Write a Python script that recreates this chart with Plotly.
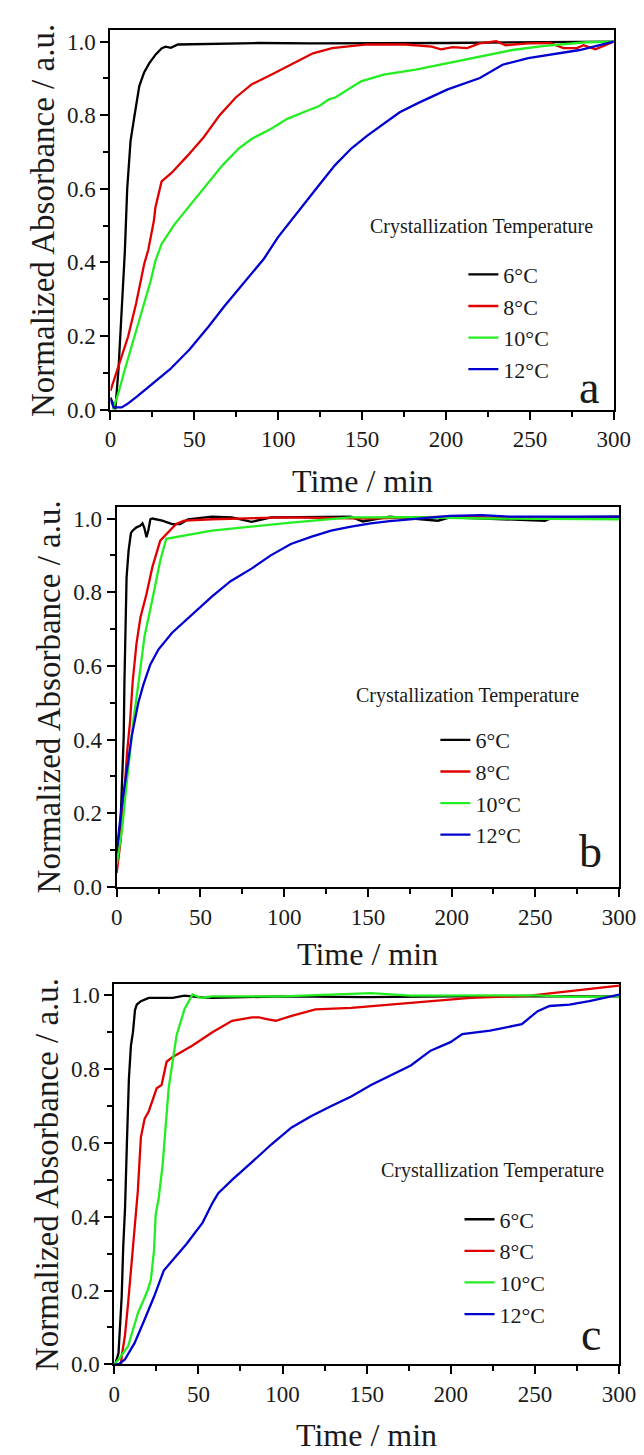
import plotly.graph_objects as go

W, H = 644, 1455

# ---------------- data ----------------
# Panel a
A6_t = [0, 2.9, 4.8, 6.3, 7.7, 8.6, 10, 12, 14.4, 17.2, 20, 23, 27, 30.6, 33, 36, 40.2, 50, 88, 120, 200, 300]
A6_v = [0.033, 0.0, 0.109, 0.243, 0.332, 0.43, 0.6, 0.73, 0.8, 0.879, 0.915, 0.94, 0.965, 0.982, 0.986, 0.983, 0.992, 0.993, 0.996, 0.995, 0.996, 1.0]
A8_t = [0, 2.9, 6.7, 10.5, 15.3, 20.1, 22.6, 25.9, 26.8, 29.7, 30.5, 36.4, 46, 55.6, 65.1, 74.7, 84.3, 95.8, 109.2, 120.7, 132.2, 153, 176, 191.5, 197, 204, 212.6, 220, 230, 235.6, 249, 262, 270, 278, 282, 289, 295, 300]
A8_v = [0.051, 0.091, 0.145, 0.198, 0.288, 0.395, 0.435, 0.513, 0.549, 0.605, 0.62, 0.643, 0.69, 0.74, 0.80, 0.848, 0.884, 0.91, 0.942, 0.968, 0.982, 0.992, 0.992, 0.986, 0.979, 0.985, 0.982, 0.995, 1.001, 0.99, 0.995, 0.996, 0.982, 0.982, 0.99, 0.979, 0.99, 1.0]
A10_t = [1.5, 4.8, 8.6, 12.5, 16.3, 20.1, 24, 26.8, 29.3, 30.5, 38.3, 47.9, 57.5, 67, 76.6, 84.3, 95.8, 105.4, 115, 124.5, 130.2, 134, 149.4, 162.8, 182, 201, 220, 239.5, 258.6, 283.5, 300]
A10_v = [0.0, 0.046, 0.109, 0.171, 0.225, 0.288, 0.35, 0.404, 0.439, 0.45, 0.504, 0.558, 0.611, 0.665, 0.71, 0.736, 0.763, 0.79, 0.808, 0.825, 0.843, 0.848, 0.892, 0.91, 0.924, 0.941, 0.959, 0.977, 0.988, 0.998, 1.0]
A12_t = [0, 1.9, 6.7, 10, 16.3, 25.9, 35.4, 47, 58.4, 67.9, 79.7, 91.5, 99.8, 115, 124.5, 134, 143.7, 153.3, 162.8, 172.4, 183.9, 201, 220.2, 233.7, 249, 268, 279.7, 300]
A12_v = [0.029, 0.006, 0.006, 0.015, 0.0375, 0.073, 0.109, 0.1625, 0.225, 0.281, 0.344, 0.41, 0.468, 0.558, 0.611, 0.665, 0.71, 0.745, 0.776, 0.808, 0.834, 0.87, 0.901, 0.937, 0.955, 0.968, 0.977, 1.0]

# Panel b
B6_t = [0, 1.5, 2.5, 3.3, 4.2, 4.6, 5.3, 5.9, 7.1, 8.5, 9.5, 11.8, 14, 15.4, 16.5, 17.8, 19, 20.1, 21.3, 27.2, 33.1, 37.9, 42.6, 56.8, 68.7, 80.5, 92.3, 116, 139.7, 147, 163, 191.8, 199, 255.7, 260.5, 300]
B6_v = [0.07, 0.12, 0.2, 0.31, 0.41, 0.55, 0.7, 0.84, 0.913, 0.96, 0.967, 0.976, 0.98, 0.987, 0.975, 0.949, 0.97, 0.998, 1.0, 0.994, 0.985, 0.985, 0.998, 1.005, 1.003, 0.991, 1.003, 1.003, 1.005, 0.992, 1.005, 0.994, 1.003, 0.994, 1.003, 1.005]
B8_t = [0, 2.3, 4.2, 6.2, 8.0, 9.5, 11.8, 14.2, 17.8, 21.3, 26, 29.6, 35.5, 40.3, 56.8, 100, 150, 200, 250, 300]
B8_v = [0.038, 0.124, 0.231, 0.365, 0.45, 0.555, 0.66, 0.732, 0.795, 0.868, 0.94, 0.958, 0.985, 0.994, 0.998, 1.003, 1.0, 1.005, 1.0, 1.0]
B10_t = [0, 3.3, 5.2, 8.1, 10.3, 13.5, 16.6, 21.3, 26, 29.6, 56.8, 104, 139.7, 175.2, 220, 300]
B10_v = [0.061, 0.16, 0.249, 0.365, 0.464, 0.57, 0.68, 0.78, 0.886, 0.945, 0.967, 0.989, 1.003, 1.004, 1.0, 0.998]
B12_t = [0, 3.3, 6.2, 9, 12.9, 16, 20.1, 25, 33.1, 45, 56.8, 68, 80.5, 92, 104, 116, 128, 140, 151.7, 163, 175.2, 187, 199, 218, 234.5, 300]
B12_v = [0.097, 0.231, 0.32, 0.41, 0.5, 0.55, 0.604, 0.645, 0.69, 0.74, 0.788, 0.83, 0.864, 0.9, 0.931, 0.95, 0.967, 0.978, 0.987, 0.993, 0.998, 1.003, 1.007, 1.009, 1.005, 1.005]

# Panel c
C6_t = [0, 0.5, 2.5, 3.4, 4.4, 5.3, 6.4, 7.5, 8.7, 9.9, 11.1, 12.3, 13.4, 15.8, 20.5, 34.7, 41.7, 50, 58.3, 100, 150, 200, 250, 300]
C6_v = [0, 0.0, 0.03, 0.094, 0.183, 0.317, 0.424, 0.6, 0.775, 0.864, 0.9, 0.96, 0.975, 0.984, 0.993, 0.993, 0.999, 0.995, 0.993, 0.997, 0.995, 0.997, 0.997, 0.997]
C8_t = [0, 4, 4.4, 6.3, 8.2, 10.2, 12.1, 14, 15.8, 18, 20.5, 25.2, 28.1, 31.1, 34.7, 46.5, 58.3, 70, 81.8, 86, 91.3, 96, 105.4, 119.6, 140.8, 176.2, 211.6, 247, 270.5, 300]
C8_v = [0, 0.0, 0.022, 0.076, 0.165, 0.272, 0.379, 0.47, 0.615, 0.665, 0.686, 0.748, 0.757, 0.82, 0.833, 0.864, 0.9, 0.931, 0.94, 0.94, 0.935, 0.931, 0.944, 0.962, 0.966, 0.98, 0.993, 0.999, 1.011, 1.026]
C10_t = [0, 2.5, 8.2, 14, 19.8, 21.7, 23.6, 24.6, 26.4, 28.8, 32.3, 34.5, 37, 41.7, 46.5, 51.2, 58.3, 100, 152.6, 176, 250, 270.5, 300]
C10_v = [0, 0.013, 0.049, 0.138, 0.2, 0.228, 0.308, 0.406, 0.45, 0.544, 0.748, 0.82, 0.891, 0.962, 1.002, 0.993, 0.997, 0.997, 1.006, 0.999, 1.0, 0.996, 0.997]
C12_t = [0, 2.5, 6.3, 12.1, 17.9, 23.6, 29.4, 35.2, 42.9, 52.5, 58.3, 61.8, 70, 81.8, 93.6, 105.4, 117.2, 129, 140.8, 152.6, 164.4, 176.2, 188, 199.8, 206.8, 223.3, 242.2, 246.9, 251.6, 258.7, 270.5, 282.3, 300]
C12_v = [0, 0.0, 0.013, 0.058, 0.12, 0.183, 0.254, 0.286, 0.326, 0.384, 0.437, 0.464, 0.5, 0.548, 0.597, 0.642, 0.673, 0.7, 0.726, 0.757, 0.784, 0.81, 0.85, 0.873, 0.895, 0.904, 0.922, 0.94, 0.957, 0.971, 0.975, 0.984, 1.002]

series_names = ["6°C", "8°C", "10°C", "12°C"]
colors = ["#000000", "#e00000", "#22ee22", "#0000d0"]
panel_letters = ["a", "b", "c"]
x_ticks = [0, 50, 100, 150, 200, 250, 300]
y_ticks = [0.0, 0.2, 0.4, 0.6, 0.8, 1.0]

panels = [
    [(A6_t, A6_v), (A8_t, A8_v), (A10_t, A10_v), (A12_t, A12_v)],
    [(B6_t, B6_v), (B8_t, B8_v), (B10_t, B10_v), (B12_t, B12_v)],
    [(C6_t, C6_v), (C8_t, C8_v), (C10_t, C10_v), (C12_t, C12_v)],
]

# ---------------- layout geometry (pixels) ----------------
FONT = "Liberation Serif, 'Times New Roman', Times, serif"
TXT = "#1a1a1a"
boxes = [(100, 622, 21.7, 404.5), (106.5, 627.5, 503.3, 886.5), (104, 627.5, 984.7, 1368.5)]
legend_pos = [(466, 247), (437, 717), (462, 1201)]
label_pos = [(485, 220), (470, 693), (496, 1172.7)]
letter_pos = [(596.5, 382), (598, 850.7), (598, 1338)]
xtitle_y = [477, 954, 1440]

def px(x):
    return x / W

def py(y):
    return (H - y) / H

fig = go.Figure()
legend_keys = ["legend", "legend2", "legend3"]

for i, series in enumerate(panels):
    xa = "x" if i == 0 else f"x{i+1}"
    ya = "y" if i == 0 else f"y{i+1}"
    for j, (t, v) in enumerate(series):
        fig.add_trace(go.Scatter(
            x=t, y=v, mode="lines", name=series_names[j],
            line=dict(color=colors[j], width=2.3),
            xaxis=xa, yaxis=ya, legend=legend_keys[i], showlegend=True,
        ))

layout = dict(
    width=W, height=H, margin=dict(l=0, r=0, t=0, b=0),
    paper_bgcolor="white", plot_bgcolor="white",
    font=dict(family=FONT, color=TXT),
    annotations=[], showlegend=True,
)

tickfont = dict(family=FONT, size=23, color=TXT)
for i, (l, r, t, b) in enumerate(boxes):
    sfx = "" if i == 0 else str(i + 1)
    layout["xaxis" + sfx] = dict(
        domain=[px(l), px(r)], range=[0, 300], anchor="y" + sfx,
        showline=True, linecolor="black", linewidth=2, mirror=True,
        ticks="outside", ticklen=8, tickwidth=2, tickcolor="black",
        tickvals=x_ticks, tickfont=tickfont, showgrid=False, zeroline=False,
        minor=dict(ticks="outside", ticklen=5, tickwidth=1.5, tickcolor="black",
                   tick0=0, dtick=25, showgrid=False),
    )
    layout["yaxis" + sfx] = dict(
        domain=[py(b), py(t)], range=[0, 1.03], anchor="x" + sfx,
        showline=True, linecolor="black", linewidth=2, mirror=True,
        ticks="outside", ticklen=8, tickwidth=2, tickcolor="black",
        tickvals=y_ticks, tickformat=".1f", tickfont=tickfont,
        showgrid=False, zeroline=False,
        minor=dict(ticks="outside", ticklen=5, tickwidth=1.5, tickcolor="black",
                   tick0=0, dtick=0.1, showgrid=False),
    )
    lx, ly = legend_pos[i]
    layout[legend_keys[i]] = dict(
        x=px(lx), y=py(ly), xanchor="left", yanchor="top",
        bgcolor="rgba(0,0,0,0)", borderwidth=0,
        font=dict(family=FONT, size=22, color=TXT),
        itemwidth=30, tracegroupgap=0,
    )
    layout["annotations"].append(dict(
        text="Time / min", xref="paper", yref="paper",
        x=px((l + r) / 2), y=py(xtitle_y[i]), xanchor="center", yanchor="middle",
        showarrow=False, font=dict(family=FONT, size=32, color=TXT),
    ))
    layout["annotations"].append(dict(
        text="Normalized Absorbance / a.u.", xref="paper", yref="paper",
        x=px(l - 70), y=py((t + b) / 2), xanchor="center", yanchor="middle",
        textangle=-90, showarrow=False, font=dict(family=FONT, size=33, color=TXT),
    ))
    cx, cy = label_pos[i]
    layout["annotations"].append(dict(
        text="Crystallization Temperature", xref="paper", yref="paper",
        x=px(cx), y=py(cy), xanchor="center", yanchor="middle",
        showarrow=False, font=dict(family=FONT, size=20, color=TXT),
    ))
    gx, gy = letter_pos[i]
    layout["annotations"].append(dict(
        text=panel_letters[i], xref="paper", yref="paper",
        x=px(gx), y=py(gy), xanchor="center", yanchor="middle",
        showarrow=False, font=dict(family=FONT, size=46, color=TXT),
    ))

fig.update_layout(**layout)
fig.write_html("out.html")
